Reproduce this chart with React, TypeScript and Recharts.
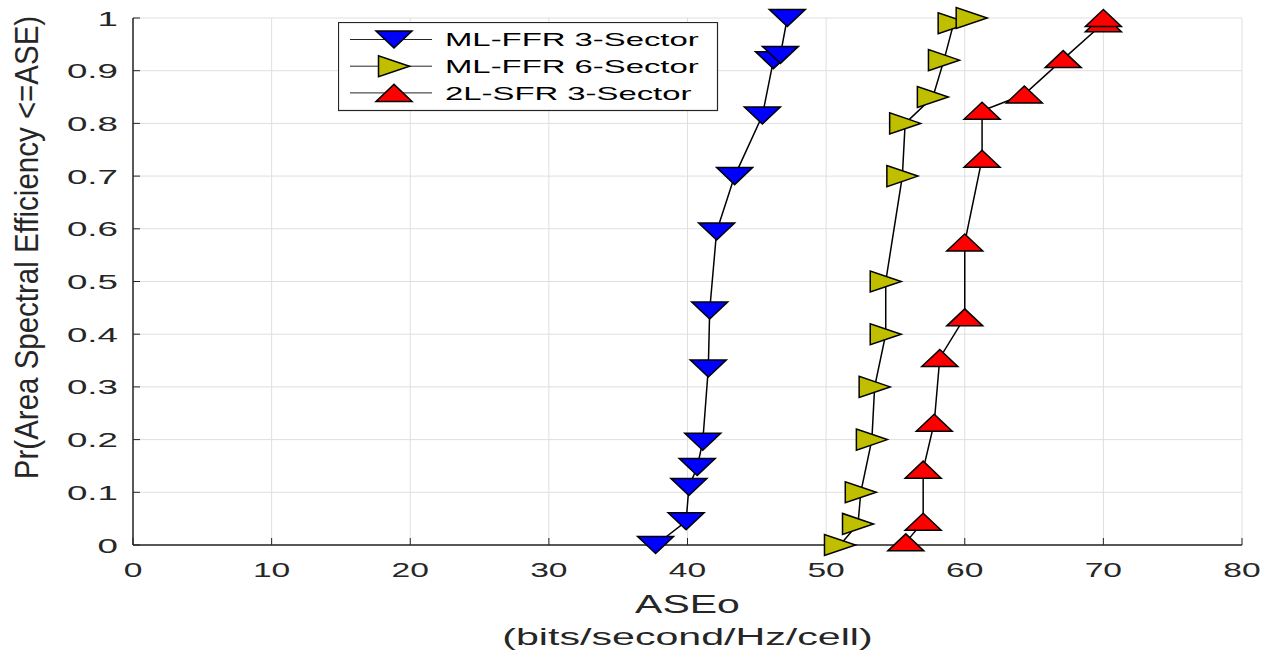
import {
  CartesianGrid,
  Legend,
  Scatter,
  ScatterChart,
  XAxis,
  YAxis,
} from 'recharts'

// ASE values (bits/second/Hz/cell) and CDF values
const ffr3Ase = [37.7, 39.9, 40.1, 40.7, 41.1, 41.5, 41.6, 42.1, 43.4, 45.4, 46.2, 46.7, 47.2]
const ffr3Prob = [0, 0.045, 0.11, 0.148, 0.196, 0.335, 0.445, 0.595, 0.7, 0.815, 0.92, 0.93, 1.0]

const ffr6Ase = [51.0, 52.3, 52.5, 53.3, 53.5, 54.3, 54.3, 55.5, 55.7, 57.7, 58.5, 59.2, 60.5]
const ffr6Prob = [0, 0.04, 0.1, 0.2, 0.3, 0.4, 0.5, 0.7, 0.8, 0.85, 0.92, 0.99, 1.0]

const sfr3Ase = [55.75, 57.0, 57.0, 57.8, 58.2, 60.0, 60.0, 61.25, 61.25, 64.3, 67.1, 70.0, 70.0]
const sfr3Prob = [0.005, 0.044, 0.143, 0.232, 0.355, 0.432, 0.574, 0.733, 0.824, 0.855, 0.922, 0.99, 1.0]

const xTicks = [0, 10, 20, 30, 40, 50, 60, 70, 80]
const yTicks = [0, 0.1, 0.2, 0.3, 0.4, 0.5, 0.6, 0.7, 0.8, 0.9, 1]

const seriesNames = ['ML-FFR 3-Sector', 'ML-FFR 6-Sector', '2L-SFR 3-Sector']
const seriesColors = ['#0000ff', '#bfbf00', '#ff0000']
const seriesMarkers: Array<'down' | 'right' | 'up'> = ['down', 'right', 'up']

const toPoints = (xs: number[], ys: number[]) => xs.map((x, i) => ({ x, y: ys[i] }))
const seriesData = [
  toPoints(ffr3Ase, ffr3Prob),
  toPoints(ffr6Ase, ffr6Prob),
  toPoints(sfr3Ase, sfr3Prob),
]

const FONT = '"Liberation Sans", Arial, Helvetica, sans-serif'
const INK = '#262626'

function markerPoints(kind: 'down' | 'right' | 'up', cx: number, cy: number) {
  if (kind === 'down') {
    return `${cx - 18},${cy - 8.5} ${cx + 18},${cy - 8.5} ${cx},${cy + 8.5}`
  }
  if (kind === 'up') {
    return `${cx - 18},${cy + 8.5} ${cx + 18},${cy + 8.5} ${cx},${cy - 8.5}`
  }
  return `${cx - 15.5},${cy - 10.5} ${cx - 15.5},${cy + 10.5} ${cx + 15.5},${cy}`
}

function makeShape(kind: 'down' | 'right' | 'up', color: string) {
  return (props: any) => {
    const { cx, cy } = props
    if (cx == null || cy == null) return <g />
    return (
      <polygon
        points={markerPoints(kind, cx, cy)}
        fill={color}
        stroke="#000"
        strokeWidth={1.5}
        strokeLinejoin="miter"
      />
    )
  }
}

function XTick({ x, y, payload }: any) {
  return (
    <g transform={`translate(${x},${y + 15}) scale(1.6,1)`}>
      <text x={0} y={0} textAnchor="middle" fontSize={21} fill={INK} fontFamily={FONT}>
        {payload.value}
      </text>
    </g>
  )
}

function YTick({ x, y, payload }: any) {
  return (
    <g transform={`translate(${x},${y + 7.5}) scale(1.75,1)`}>
      <text x={0} y={0} textAnchor="end" fontSize={21} fill={INK} fontFamily={FONT}>
        {payload.value}
      </text>
    </g>
  )
}

const NoTick = () => <g />

function XLabel({ viewBox }: any) {
  const cx = viewBox.x + viewBox.width / 2
  return (
    <g>
      <g transform={`translate(${cx},613) scale(1.64,1)`}>
        <text x={0} y={0} textAnchor="middle" fontSize={25} fill={INK} fontFamily={FONT}>
          ASEo
        </text>
      </g>
      <g transform={`translate(${cx},645) scale(1.68,1)`}>
        <text x={0} y={0} textAnchor="middle" fontSize={24.5} fill={INK} fontFamily={FONT}>
          (bits/second/Hz/cell)
        </text>
      </g>
    </g>
  )
}

function YLabel({ viewBox }: any) {
  const cy = viewBox.y + viewBox.height / 2 - 34
  return (
    <g transform={`translate(38,${cy}) rotate(-90) scale(1,1.1)`}>
      <text x={0} y={0} textAnchor="middle" fontSize={29.5} fill={INK} fontFamily={FONT}>
        Pr(Area Spectral Efficiency &lt;=ASE)
      </text>
    </g>
  )
}

function LegendBox() {
  return (
    <svg width={381} height={90} style={{ display: 'block' }}>
      <rect x={0.5} y={0.5} width={379} height={88} fill="#fff" stroke={INK} strokeWidth={1.2} />
      {seriesNames.map((name, i) => {
        const cy = 17.5 + i * 26.7
        return (
          <g key={name}>
            <line x1={12} x2={94} y1={cy} y2={cy} stroke={INK} strokeWidth={1} />
            <polygon
              points={markerPoints(seriesMarkers[i], 56, cy)}
              fill={seriesColors[i]}
              stroke="#000"
              strokeWidth={1.5}
            />
            <g transform={`translate(107,${cy + 6.8}) scale(1.73,1)`}>
              <text x={0} y={0} fontSize={19} fill="#000" fontFamily={FONT}>
                {name}
              </text>
            </g>
          </g>
        )
      })}
    </svg>
  )
}

export default function App() {
  return (
    <div style={{ position: 'absolute', left: 0, top: 0, width: 1273, height: 652, background: '#fff' }}>
      <ScatterChart width={1273} height={652} margin={{ top: 18, right: 31, bottom: 0, left: 0 }}>
        <CartesianGrid stroke="#dfdfdf" strokeWidth={1} />
        <XAxis
          type="number"
          dataKey="x"
          domain={[0, 80]}
          ticks={xTicks}
          height={107}
          axisLine={{ stroke: INK, strokeWidth: 1.5 }}
          tickLine={{ stroke: INK, strokeWidth: 1 }}
          tickSize={-7}
          tickMargin={24}
          tick={<XTick />}
          interval={0}
          label={<XLabel />}
        />
        <XAxis
          xAxisId="top"
          orientation="top"
          type="number"
          domain={[0, 80]}
          ticks={xTicks}
          height={0}
          axisLine={{ stroke: INK, strokeWidth: 1.5 }}
          tickLine={{ stroke: INK, strokeWidth: 1 }}
          tickSize={-7}
          tick={NoTick}
          interval={0}
        />
        <YAxis
          type="number"
          dataKey="y"
          domain={[0, 1]}
          ticks={yTicks}
          width={133}
          axisLine={{ stroke: INK, strokeWidth: 1.5 }}
          tickLine={{ stroke: INK, strokeWidth: 1 }}
          tickSize={-7}
          tickMargin={22}
          tick={<YTick />}
          interval={0}
          label={<YLabel />}
        />
        <YAxis
          yAxisId="right"
          orientation="right"
          type="number"
          domain={[0, 1]}
          ticks={yTicks}
          width={0}
          axisLine={{ stroke: INK, strokeWidth: 1.5 }}
          tickLine={{ stroke: INK, strokeWidth: 1 }}
          tickSize={-7}
          tick={NoTick}
          interval={0}
        />
        <Legend
          layout="vertical"
          align="center"
          verticalAlign="middle"
          content={<LegendBox />}
          wrapperStyle={{ left: 338, top: 22, width: 381, height: 90 }}
        />
        {seriesData.map((data, i) => (
          <Scatter
            key={seriesNames[i]}
            name={seriesNames[i]}
            data={data}
            fill={seriesColors[i]}
            line={{ stroke: '#000', strokeWidth: 1.5 }}
            shape={makeShape(seriesMarkers[i], seriesColors[i])}
            isAnimationActive={false}
          />
        ))}
      </ScatterChart>
    </div>
  )
}
